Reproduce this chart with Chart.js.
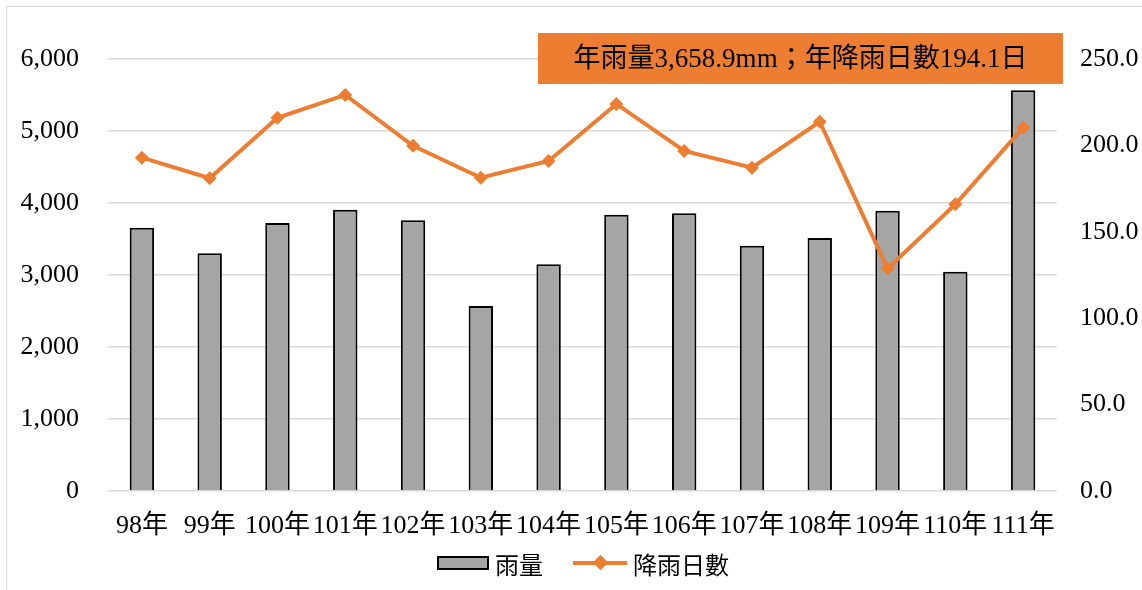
<!DOCTYPE html>
<html>
<head>
<meta charset="utf-8">
<script src="https://cdn.jsdelivr.net/npm/chart.js@4/dist/chart.umd.min.js"></script>
<style>
    body { margin: 0; background: #fff; }
    #wrap { position: relative; width: 1142px; height: 590px; }
    #frame { position: absolute; left: 6px; top: 6px; width: 1140px; height: 590px; border: 1.5px solid #d9d9d9; box-sizing: border-box; }
    #my-chart { position: absolute; left: 0; top: 0; }
    #legend { position: absolute; left: 12px; width: 1142px; top: 548px; height: 30px; display: flex; justify-content: center; align-items: center; font: 24px "Liberation Serif", "Noto Sans CJK TC", serif; color: #000; }
    .item { display: flex; align-items: center; margin: 0 15px; }
    .bar-swatch { width: 48px; height: 10px; background: #a5a5a5; border: 2px solid #000; margin-right: 6px; }
    .line-swatch { position: relative; width: 54px; height: 4px; background: #ed7d31; margin-right: 6px; }
    .line-swatch::after { content: ""; position: absolute; left: 22px; top: -4px; width: 11px; height: 11px; background: #ed7d31; transform: rotate(45deg); }
</style>
</head>
<body>
<div id="wrap">
    <div id="frame"></div>
    <canvas id="my-chart" width="1142" height="590"></canvas>
    <div id="legend">
        <span class="item"><span class="bar-swatch"></span>雨量</span>
        <span class="item"><span class="line-swatch"></span>降雨日數</span>
    </div>
</div>
<script>
// 年度
const years = ['98年', '99年', '100年', '101年', '102年', '103年', '104年', '105年', '106年', '107年', '108年', '109年', '110年', '111年'];
// 雨量 (mm)
const rainfall = [3657, 3301, 3722, 3907, 3759, 2569, 3148, 3838, 3856, 3407, 3514, 3894, 3046, 5565];
// 降雨日數
const rainDays = [192.9, 181.0, 216.0, 229.2, 199.8, 181.3, 191.0, 224.0, 196.8, 187.1, 213.7, 128.7, 165.9, 210.3];
const summaryText = '年雨量3,658.9mm；年降雨日數194.1日';

const fontFamily = '"Liberation Serif", "Noto Sans CJK TC", serif';

// Encadré orange en haut à droite
const summaryBox = {
    id: 'summaryBox',
    afterDraw(chart) {
        const ctx = chart.ctx;
        const area = chart.chartArea;
        const right = area.right + 6;
        const left = right - 525;
        const top = area.top - 26;
        ctx.save();
        ctx.fillStyle = '#ed7d31';
        ctx.fillRect(left, top, right - left, 51);
        ctx.fillStyle = '#000';
        ctx.font = '27px ' + fontFamily;
        ctx.textAlign = 'center';
        ctx.textBaseline = 'middle';
        ctx.fillText(summaryText, (left + right) / 2, top + 27);
        ctx.restore();
    }
};

const ctx = document.getElementById('my-chart').getContext('2d');
new Chart(ctx, {
    data: {
        labels: years,
        datasets: [
            {
                type: 'line',
                label: '降雨日數',
                data: rainDays,
                yAxisID: 'y1',
                borderColor: '#ed7d31',
                backgroundColor: '#ed7d31',
                borderWidth: 4,
                pointStyle: 'rectRot',
                pointRadius: 7,
                pointBorderWidth: 0,
                tension: 0,
                order: 0
            },
            {
                type: 'bar',
                label: '雨量',
                data: rainfall,
                yAxisID: 'y',
                backgroundColor: '#a5a5a5',
                borderColor: '#000',
                borderWidth: 2,
                barPercentage: 0.36,
                categoryPercentage: 1,
                order: 1
            }
        ]
    },
    options: {
        responsive: false,
        animation: false,
        layout: { padding: { left: 0, right: 0, top: 59, bottom: 0 } },
        plugins: {
            legend: { display: false },
            tooltip: { enabled: false }
        },
        scales: {
            x: {
                grid: { display: false },
                border: { display: false },
                afterFit: s => { s.height = 99; },
                ticks: {
                    color: '#000',
                    font: { family: fontFamily, size: 26 },
                    autoSkip: false,
                    maxRotation: 0,
                    padding: 12
                }
            },
            y: {
                position: 'left',
                min: 0,
                max: 6000,
                afterFit: s => { s.width = 108; },
                grid: { color: '#d9d9d9', lineWidth: 1.5, drawTicks: false },
                border: { display: false },
                ticks: {
                    stepSize: 1000,
                    color: '#000',
                    padding: 29,
                    font: { family: fontFamily, size: 26 },
                    callback: v => v.toLocaleString('en-US')
                }
            },
            y1: {
                position: 'right',
                min: 0,
                max: 250,
                afterFit: s => { s.width = 85; },
                grid: { display: false, drawTicks: false },
                border: { display: false },
                ticks: {
                    stepSize: 50,
                    color: '#000',
                    padding: 23,
                    font: { family: fontFamily, size: 26 },
                    callback: v => v.toFixed(1)
                }
            }
        }
    },
    plugins: [summaryBox]
});
</script>
</body>
</html>
